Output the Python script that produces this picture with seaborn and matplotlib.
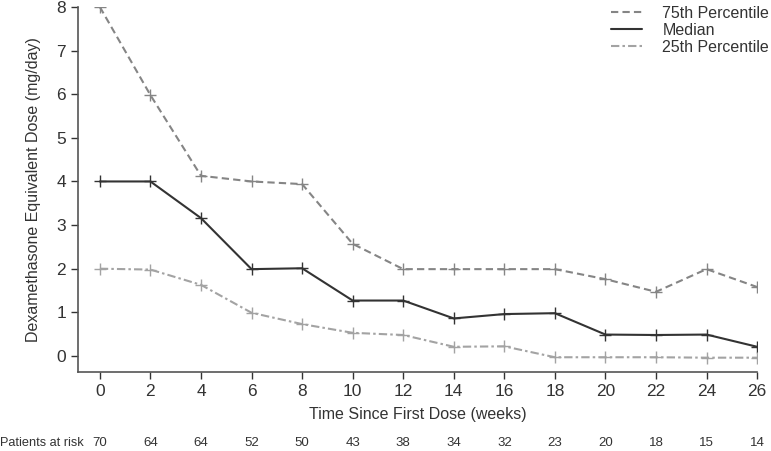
import pandas as pd
import matplotlib
matplotlib.use('Agg')
import matplotlib.pyplot as plt
import matplotlib.transforms as mtransforms
import seaborn as sns

# Data
weeks = [0, 2, 4, 6, 8, 10, 12, 14, 16, 18, 20, 22, 24, 26]
p75 = [8.0, 5.98, 4.13, 4.0, 3.94, 2.57, 1.99, 1.99, 1.99, 1.99, 1.76, 1.47, 1.99, 1.58]
median = [4.0, 4.0, 3.16, 1.99, 2.01, 1.27, 1.27, 0.86, 0.96, 0.98, 0.49, 0.48, 0.49, 0.21]
p25 = [2.0, 1.98, 1.63, 0.99, 0.73, 0.53, 0.48, 0.21, 0.22, -0.03, -0.03, -0.03, -0.04, -0.04]
at_risk = [70, 64, 64, 52, 50, 43, 38, 34, 32, 23, 20, 18, 15, 14]
series_names = ['75th Percentile', 'Median', '25th Percentile']

sns.set_theme(style="ticks")
plt.rcParams['font.family'] = ['Liberation Sans', 'DejaVu Sans']

df = pd.concat([
    pd.DataFrame({'week': weeks, 'dose': vals, 'series': name})
    for name, vals in zip(series_names, [p75, median, p25])
])

palette = {'75th Percentile': '#858585', 'Median': '#333333', '25th Percentile': '#a3a3a3'}
dashes = {'75th Percentile': (3.5, 2), 'Median': '', '25th Percentile': (4, 1.5, 1.2, 1.5)}
markers = {name: '+' for name in series_names}

fig = plt.figure(figsize=(7.71, 4.51), dpi=100)
ax = fig.add_axes([0.101, 0.175, 0.881, 0.8095])

sns.lineplot(data=df, x='week', y='dose', hue='series', style='series',
             hue_order=series_names, style_order=series_names,
             palette=palette, dashes=dashes, markers=markers,
             markersize=8, linewidth=1.5, ax=ax)

# seaborn gives markers a white edge; '+' only has an edge
for line in ax.lines:
    line.set_markeredgecolor(line.get_color())
    line.set_markeredgewidth(1.0)

ax.set_xlim(-0.87, 26)
ax.set_ylim(-0.37, 8)
ax.set_xticks(weeks)
ax.set_yticks(range(0, 9))
ax.set_xlabel('Time Since First Dose (weeks)', fontsize=11.5, color='#333333', labelpad=6)
ax.set_ylabel('Dexamethasone Equivalent Dose (mg/day)', fontsize=11.5, color='#333333', labelpad=11)
ax.tick_params(labelsize=12.5, colors='#333333', length=5, width=1, direction='out')
for side in ['top', 'right']:
    ax.spines[side].set_visible(False)
for side in ['left', 'bottom']:
    ax.spines[side].set_color('#555555')
    ax.spines[side].set_linewidth(1.2)

# patients at risk row
row_y = 443
trans = mtransforms.blended_transform_factory(ax.transData, fig.transFigure)
for w, n in zip(weeks, at_risk):
    ax.text(w, 1 - row_y / 451, str(n), transform=trans, ha='center', va='center',
            fontsize=9.5, color='#333333')
fig.text(0.0, 1 - row_y / 451, 'Patients at risk', ha='left', va='center',
         fontsize=9.2, color='#333333')

leg = ax.legend(loc='upper right', bbox_to_anchor=(1.008, 1.005),
                bbox_transform=fig.transFigure, frameon=False, fontsize=11.5,
                handlelength=1.9, handletextpad=1.3, labelspacing=0.12,
                borderaxespad=0.1)
for h in leg.legend_handles:
    h.set_marker('')
for t in leg.get_texts():
    t.set_color('#333333')

fig.savefig('out.png', dpi=100)
